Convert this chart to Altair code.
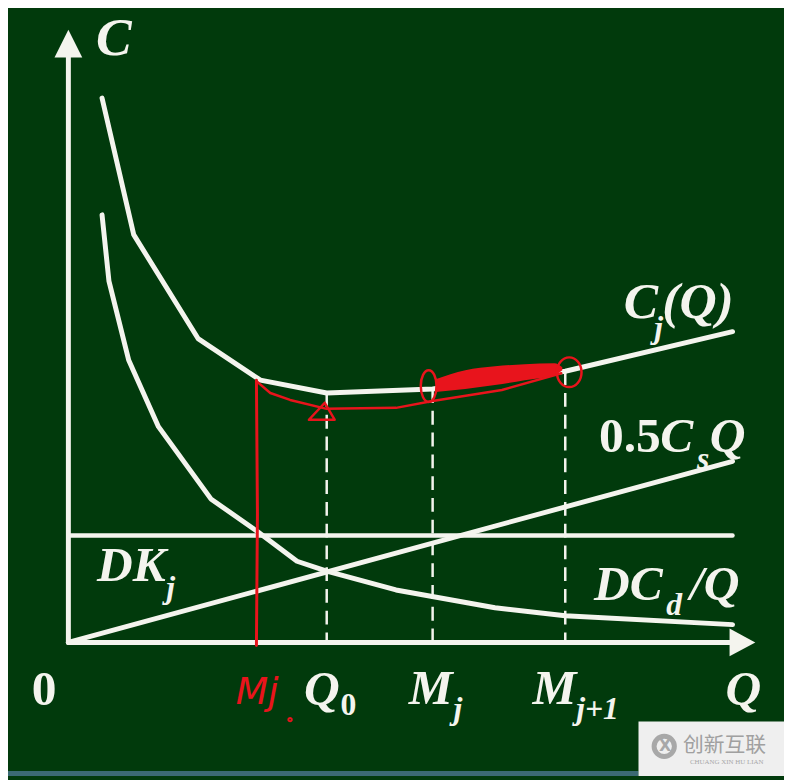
import altair as alt
import pandas as pd

# ---------------- data (diagram units: Q = quantity, C = cost) ----------------
cj_q = [34, 66, 131, 194, 261, 368, 502, 671]
cj_c = [550, 412, 307, 265, 252, 256, 274, 314]

dcd_q = [34, 41, 61, 91, 144, 191, 231, 261, 331, 431, 502, 671]
dcd_c = [432, 365, 285, 218, 145, 112, 82, 72, 53, 35, 27, 18]

cs_q = [0, 671]
cs_c = [0, 183]

dk_q = [0, 671]
dk_c = [108, 108]

dash_q = [261, 368, 502]
dash_top = [252, 256, 274]

# hand-drawn red annotation
red_v_q = [190, 191, 190]
red_v_c = [265, 130, -3]
red_q = [190, 204, 224, 261, 331, 368, 438, 498]
red_c = [264, 252, 245, 236, 237, 244, 255, 272]
tri_q = [259, 243, 269, 259]
tri_c = [242, 225, 225, 242]
blob_q = [371, 401, 431, 461, 491, 499]
blob_top = [266, 275, 279, 281, 282, 278]
blob_bot = [253, 256, 260, 265, 270, 275]

# labels: text, q, c, font size
italic_labels = ["C", "C", "j", "(Q)", "C", "s", "Q", "DK", "j", "DC", "d", "/Q",
                 "Q", "M", "j", "M", "j+1", "Q"]
italic_q = [28, 561, 592, 600, 598, 635, 648, 29, 99, 531, 604, 628,
            238, 344, 389, 469, 513, 664]
italic_c = [593, 328, 308, 328, 192, 175, 192, 62, 45, 43, 28, 43,
            -63, -62, -77, -62, -77, -63]
italic_size = [54, 52, 32, 52, 50, 32, 50, 50, 32, 50, 32, 50,
               50, 50, 32, 50, 32, 50]

upright_labels = ["0", "0.5", "0"]
upright_q = [-37, 536, 275]
upright_c = [-63, 192, -73]
upright_size = [50, 50, 32]

BG = "#013a0c"
WHITE = "#f4f4ee"
RED = "#e8141c"

xs = alt.Scale(domain=[-61, 723], nice=False, zero=False)
ys = alt.Scale(domain=[-135, 637], nice=False, zero=False)


def X(f="q"):
    return alt.X(f"{f}:Q", scale=xs, axis=None)


def Y(f="c"):
    return alt.Y(f"{f}:Q", scale=ys, axis=None)


def line(q, c, color=WHITE, width=5, dash=None):
    df = pd.DataFrame({"q": q, "c": c, "o": list(range(len(q)))})
    kw = dict(color=color, strokeWidth=width, strokeCap="round", strokeJoin="round")
    if dash:
        kw["strokeDash"] = dash
        kw["strokeCap"] = "butt"
    return alt.Chart(df).mark_line(**kw).encode(x=X(), y=Y(), order="o:O")


layers = []

# axes
layers.append(line([0, 0], [0, 592], width=5))
layers.append(line([0, 670], [0, 0], width=5))
arrow_df = pd.DataFrame({"q": [0], "c": [605]})
layers.append(alt.Chart(arrow_df).mark_point(
    shape="M 0 -1 L 1 1 L -1 1 Z", size=784, filled=True, color=WHITE, opacity=1
).encode(x=X(), y=Y()))
arrow_df2 = pd.DataFrame({"q": [681], "c": [0]})
layers.append(alt.Chart(arrow_df2).mark_point(
    shape="M 0.93 0 L -0.93 -1 L -0.93 1 Z", size=784, filled=True, color=WHITE, opacity=1
).encode(x=X(), y=Y()))

# curves
layers.append(line(dk_q, dk_c, width=4.5))
layers.append(line(cs_q, cs_c, width=5))
layers.append(line(dcd_q, dcd_c, width=5))
layers.append(line(cj_q, cj_c, width=5))

# dashed verticals
dash_df = pd.DataFrame({"q": dash_q, "c": dash_top, "c0": [0, 0, 0]})
layers.append(alt.Chart(dash_df).mark_rule(
    color=WHITE, strokeWidth=2.5, strokeDash=[14, 8]
).encode(x=X(), y=Y(), y2="c0"))

# red annotations
layers.append(line(red_v_q, red_v_c, color=RED, width=3))
layers.append(line(red_q, red_c, color=RED, width=2.5))
layers.append(line(tri_q, tri_c, color=RED, width=2.5))
blob_df = pd.DataFrame({"q": blob_q, "c": blob_top, "c2": blob_bot})
layers.append(alt.Chart(blob_df).mark_area(color=RED, opacity=1, interpolate="monotone").encode(
    x=X(), y=Y(), y2="c2"))
ell1 = pd.DataFrame({"q": [364], "c": [259]})
layers.append(alt.Chart(ell1).mark_point(
    shape="M -0.5 0 A 0.5 1 0 1 0 0.5 0 A 0.5 1 0 1 0 -0.5 0 Z",
    size=1024, filled=False, color=RED, strokeWidth=2.5, opacity=1
).encode(x=X(), y=Y()))
ell2 = pd.DataFrame({"q": [506], "c": [273]})
layers.append(alt.Chart(ell2).mark_point(
    shape="M -0.83 0 A 0.83 1 0 1 0 0.83 0 A 0.83 1 0 1 0 -0.83 0 Z",
    size=900, filled=False, color=RED, strokeWidth=2.5, opacity=1
).encode(x=X(), y=Y()))
red_lab = pd.DataFrame({"q": [169], "c": [-62], "t": ["Mj"]})
layers.append(alt.Chart(red_lab).mark_text(
    font="DejaVu Sans", fontSize=38, fontStyle="italic", color=RED, align="left",
    baseline="alphabetic"
).encode(x=X(), y=Y(), text="t:N"))
dot = pd.DataFrame({"q": [224], "c": [-78]})
layers.append(alt.Chart(dot).mark_point(size=12, color=RED, filled=False, opacity=1)
              .encode(x=X(), y=Y()))

# labels
it_df = pd.DataFrame({"t": italic_labels, "q": italic_q, "c": italic_c, "s": italic_size})
layers.append(alt.Chart(it_df).mark_text(
    font="Liberation Serif", fontStyle="italic", fontWeight="bold", color=WHITE,
    align="left", baseline="alphabetic"
).encode(x=X(), y=Y(), text="t:N", size=alt.Size("s:Q", scale=None, legend=None)))
up_df = pd.DataFrame({"t": upright_labels, "q": upright_q, "c": upright_c, "s": upright_size})
layers.append(alt.Chart(up_df).mark_text(
    font="Liberation Serif", fontWeight="bold", color=WHITE,
    align="left", baseline="alphabetic"
).encode(x=X(), y=Y(), text="t:N", size=alt.Size("s:Q", scale=None, legend=None)))

# bottom strip and watermark box
strip = pd.DataFrame({"q": [-61], "q2": [576], "c": [-130], "c2": [-135]})
layers.append(alt.Chart(strip).mark_rect(color="#3b6a74").encode(
    x=X(), x2="q2", y=Y(), y2="c2"))
box = pd.DataFrame({"q": [576], "q2": [723], "c": [-80], "c2": [-135]})
layers.append(alt.Chart(box).mark_rect(color="#efefef").encode(
    x=X(), x2="q2", y=Y(), y2="c2"))
logo = pd.DataFrame({"q": [602], "c": [-105]})
layers.append(alt.Chart(logo).mark_point(
    shape="circle", size=420, filled=False, color="#a8a8a8", strokeWidth=5, opacity=1
).encode(x=X(), y=Y()))
layers.append(alt.Chart(pd.DataFrame({"q": [603], "c": [-105], "t": ["X"]})).mark_text(
    font="DejaVu Sans", fontWeight="bold", fontSize=16, color="#a8a8a8", baseline="middle"
).encode(x=X(), y=Y(), text="t:N"))
layers.append(alt.Chart(pd.DataFrame({"q": [621], "c": [-111], "t": ["创新互联"]})).mark_text(
    font="Noto Sans CJK SC", fontSize=21, color="#a0a0a0", align="left", baseline="alphabetic"
).encode(x=X(), y=Y(), text="t:N"))
layers.append(alt.Chart(pd.DataFrame({"q": [628], "c": [-123], "t": ["CHUANG XIN HU LIAN"]})).mark_text(
    font="Liberation Serif", fontSize=7, color="#a8a8a8", align="left", baseline="alphabetic"
).encode(x=X(), y=Y(), text="t:N"))

chart = alt.layer(*layers).properties(
    width=784, height=772, background=BG, padding=0,
    autosize=alt.AutoSizeParams(type="none")
).configure_view(stroke=None)

chart.save("out.html", embed_options={"renderer": "svg", "actions": False})
